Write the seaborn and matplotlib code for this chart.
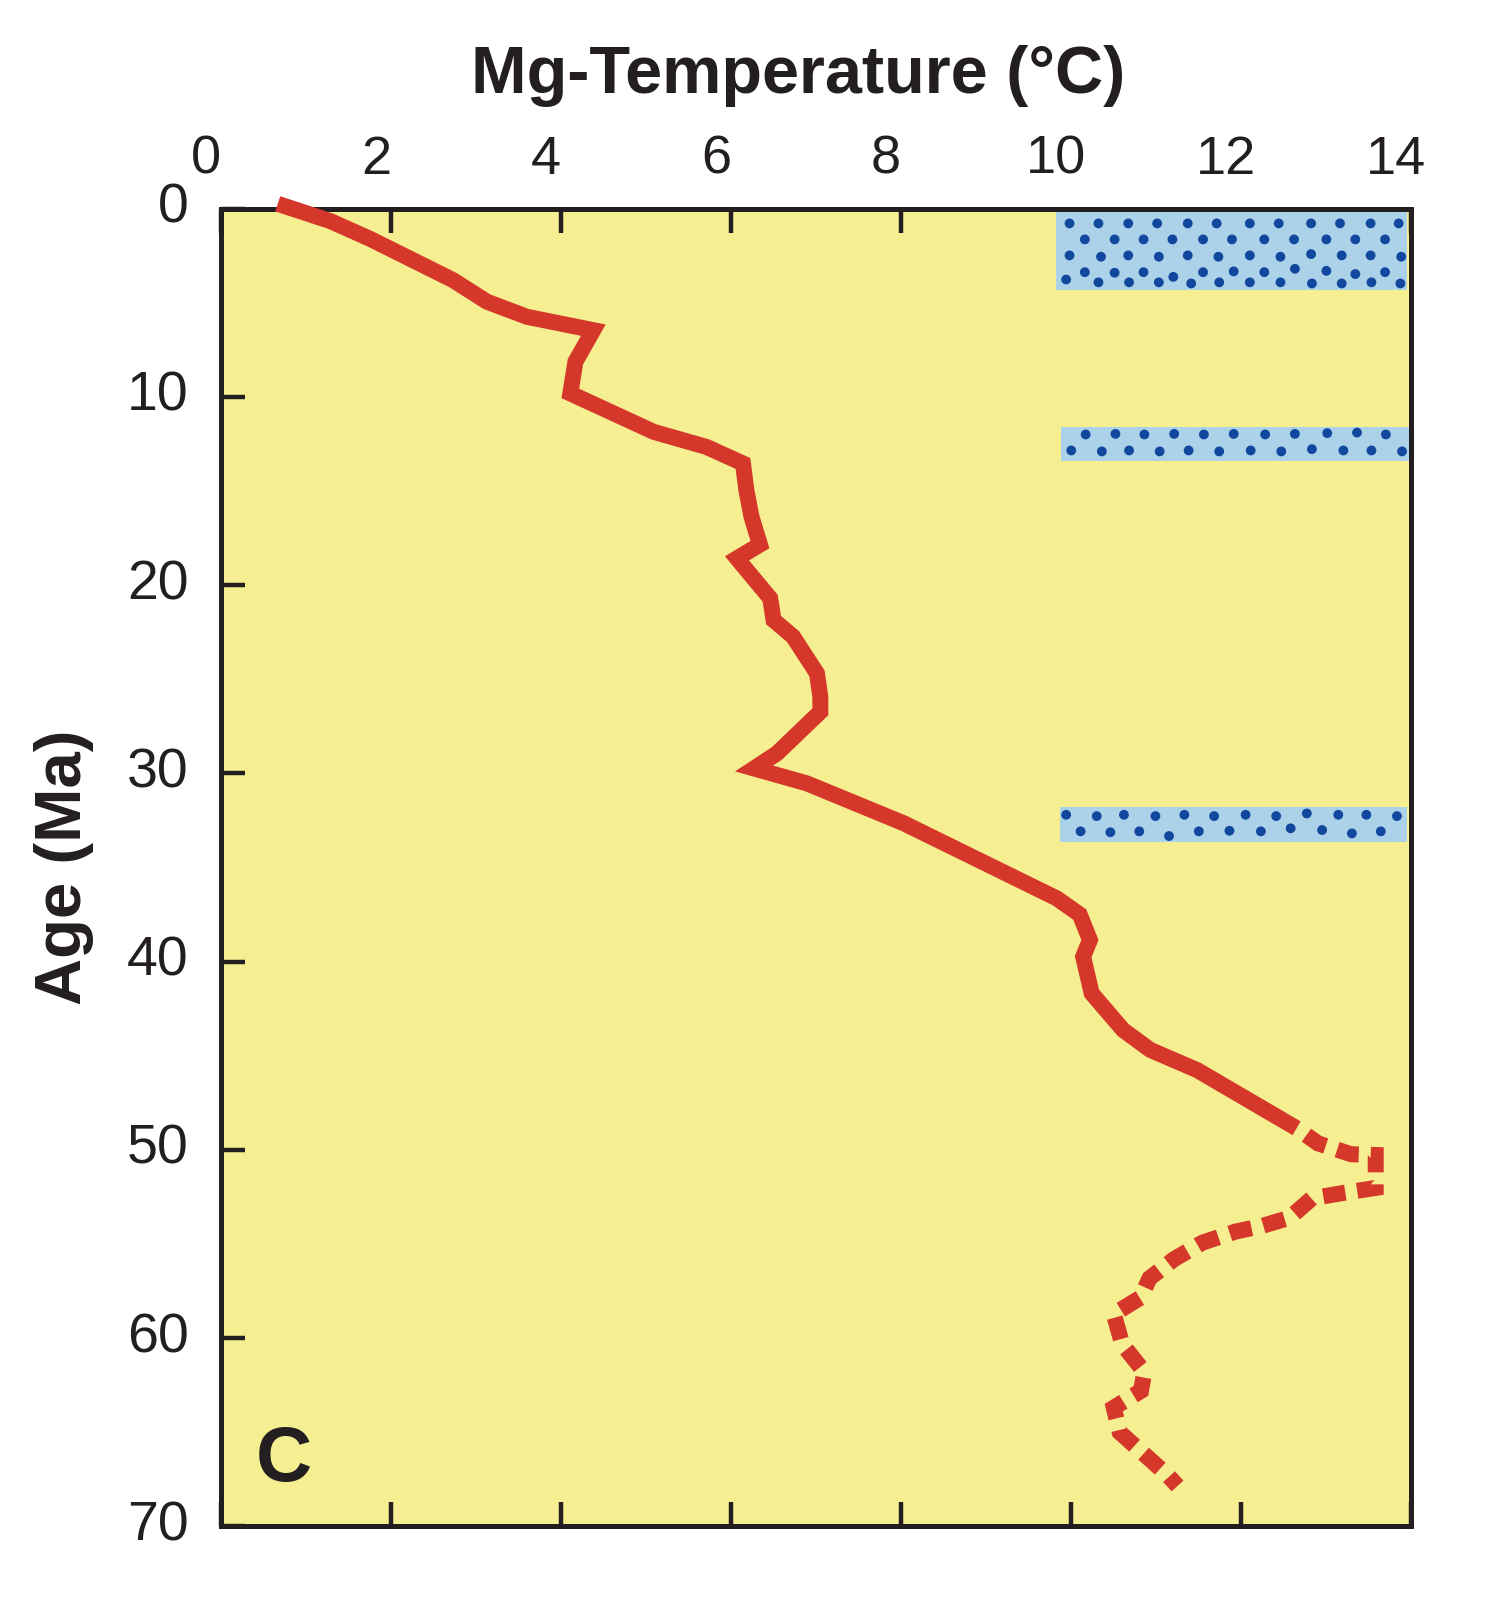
import numpy as np
import pandas as pd
import seaborn as sns
import matplotlib
matplotlib.use('Agg')
import matplotlib.pyplot as plt
import matplotlib.transforms as mtransforms

# Mg-temperature record, solid part (temperature in C, age in Ma)
solid_temp = [0.67, 1.29, 1.76, 2.73, 3.13, 3.60, 4.38, 4.17, 4.11, 5.09, 5.71, 6.14, 6.18, 6.24,
              6.34, 6.07, 6.46, 6.50, 6.73, 7.01, 7.05, 7.05, 6.54, 6.27, 6.89, 8.03, 9.83, 10.10,
              10.22, 10.14, 10.24, 10.61, 10.93, 11.48, 12.65]
solid_age = [-0.25, 0.67, 1.62, 3.80, 4.95, 5.75, 6.46, 8.14, 9.82, 11.86, 12.66, 13.54, 14.95, 16.37,
             17.85, 18.58, 20.70, 21.86, 22.74, 24.69, 25.93, 26.73, 28.94, 29.74, 30.53, 32.65, 36.64, 37.50,
             38.85, 39.74, 41.68, 43.63, 44.69, 45.76, 48.85]

# dashed part (older than ~49 Ma)
dash_temp = [12.65, 12.90, 13.29, 13.58, 13.58, 13.22, 12.83, 12.57, 12.25, 11.93, 11.54, 11.21,
             10.92, 10.82, 10.50, 10.60, 10.86, 10.82, 10.50, 10.57, 10.86, 11.15, 11.25]
dash_age = [48.85, 49.65, 50.23, 50.27, 52.02, 52.27, 52.57, 53.60, 54.03, 54.34, 54.93, 55.80,
            56.82, 57.83, 58.72, 60.32, 61.80, 62.80, 63.69, 65.00, 66.17, 67.35, 67.85]

# blue glaciation boxes
box_left = [9.82, 9.88, 9.87]
box_right = [13.95, 14.0, 13.95]
box_top = [0.18, 11.61, 31.80]
box_bottom = [4.34, 13.40, 33.65]

# stipple dots inside the boxes
dot_x = ([9.98, 10.32, 10.67, 11.01, 11.37, 11.71, 12.10, 12.44, 12.82, 13.16, 13.52, 13.85]
         + [10.16, 10.51, 10.85, 11.19, 11.55, 11.89, 12.27, 12.62, 13.00, 13.34, 13.69]
         + [9.98, 10.35, 10.67, 11.03, 11.37, 11.73, 12.10, 12.46, 12.82, 13.18, 13.52, 13.88]
         + [10.16, 10.51, 10.85, 11.20, 11.55, 11.91, 12.27, 12.63, 13.00, 13.34, 13.69]
         + [9.94, 10.32, 10.68, 11.03, 11.41, 11.74, 12.10, 12.46, 12.83, 13.18, 13.53, 13.87]
         + [10.17, 10.52, 10.86, 11.21, 11.56, 11.91, 12.28, 12.63, 13.01, 13.36, 13.70]
         + [10.00, 10.36, 10.68, 11.04, 11.38, 11.74, 12.11, 12.47, 12.83, 13.20, 13.53, 13.89]
         + [9.94, 10.30, 10.62, 10.99, 11.33, 11.68, 12.05, 12.41, 12.77, 13.14, 13.47, 13.83]
         + [10.11, 10.46, 10.80, 11.15, 11.50, 11.86, 12.23, 12.58, 12.95, 13.30, 13.64])
dot_y = ([0.79] * 12
         + [1.64] * 11
         + [2.49, 2.56, 2.49, 2.56, 2.49, 2.56, 2.49, 2.56, 2.42, 2.49, 2.49, 2.56]
         + [3.38, 3.41, 3.38, 3.63, 3.38, 3.34, 3.38, 3.20, 3.31, 3.48, 3.38]
         + [3.77, 3.92, 3.92, 3.92, 3.98, 3.92, 3.92, 3.92, 3.98, 3.98, 3.92, 3.98]
         + [12.00, 11.97, 12.00, 11.97, 12.00, 11.97, 12.00, 11.97, 11.93, 11.90, 12.00]
         + [12.85, 12.90, 12.85, 12.90, 12.85, 12.90, 12.85, 12.90, 12.78, 12.85, 12.85, 12.90]
         + [32.20, 32.27, 32.20, 32.27, 32.20, 32.27, 32.20, 32.27, 32.13, 32.20, 32.20, 32.27]
         + [33.08, 33.13, 33.08, 33.33, 33.08, 33.05, 33.08, 32.92, 33.01, 33.19, 33.08])

x_ticks = list(range(0, 15, 2))
y_ticks = list(range(0, 71, 10))

ink = '#231f20'
red = '#d5382a'

sns.set_theme(style='ticks')
plt.rcParams['font.family'] = ['Liberation Sans', 'DejaVu Sans']
plt.rcParams['text.color'] = ink

fig = plt.figure(figsize=(15.11, 16.09), dpi=100)
ax = fig.add_axes([0.1461, 0.0513, 0.7880, 0.8191])
ax.set_facecolor('#f6ef92')

for x0, x1, y0, y1 in zip(box_left, box_right, box_top, box_bottom):
    ax.fill_between([x0, x1], [y0, y0], [y1, y1], color='#acd2ea', lw=0, zorder=1)

dots = pd.DataFrame({'temp': dot_x, 'age': dot_y})
sns.scatterplot(data=dots, x='temp', y='age', s=50, color='#12479e', edgecolor='none',
                zorder=2, ax=ax, legend=False)

sns.lineplot(x=solid_temp, y=solid_age, sort=False, estimator=None, color=red, ax=ax)
sns.lineplot(x=dash_temp, y=dash_age, sort=False, estimator=None, color=red,
             linestyle=(1.4, (1.4, 0.75)), ax=ax)
for ln in ax.get_lines():
    ln.set_linewidth(11.5)
    ln.set_solid_joinstyle('miter')
    ln.set_dash_joinstyle('miter')
    ln.set_solid_capstyle('butt')
    ln.set_dash_capstyle('butt')
    ln.set_clip_on(False)
    ln.set_zorder(3)

ax.set_xlim(0, 14)
ax.set_ylim(70, 0)
ax.set_xticks(x_ticks)
ax.set_yticks(y_ticks)

ax.tick_params(axis='x', direction='in', top=True, bottom=True, labeltop=True, labelbottom=False,
               length=17, width=3.2, pad=17, labelsize=39, colors=ink)
ax.tick_params(axis='y', direction='in', left=True, right=False, length=17, width=3.2,
               pad=23, labelsize=40, colors=ink)
for s in ax.spines.values():
    s.set_linewidth(3.6)
    s.set_color(ink)

# tick labels sit a little off their ticks in the original
shift_x = mtransforms.ScaledTranslation(-15 / 100, 0, fig.dpi_scale_trans)
for lab in ax.get_xticklabels():
    lab.set_transform(lab.get_transform() + shift_x)
shift_y = mtransforms.ScaledTranslation(0, 6 / 100, fig.dpi_scale_trans)
for lab in ax.get_yticklabels():
    lab.set_transform(lab.get_transform() + shift_y)

ax.xaxis.set_label_position('top')
ax.set_xlabel('Mg-Temperature (°C)', fontsize=48, fontweight='bold', color=ink)
ax.xaxis.set_label_coords(0.485, 1.088)
ax.xaxis.label.set_va('baseline')

ax.set_ylabel('Age (Ma)', fontsize=47, fontweight='bold', color=ink)
ax.yaxis.set_label_coords(-0.132, 0.5)
ax.yaxis.label.set_va('center')

ax.text(0.053, 0.0347, 'C', transform=ax.transAxes, ha='center', va='baseline',
        fontsize=56, fontweight='bold', color=ink)

fig.savefig('out.png', dpi=100)
